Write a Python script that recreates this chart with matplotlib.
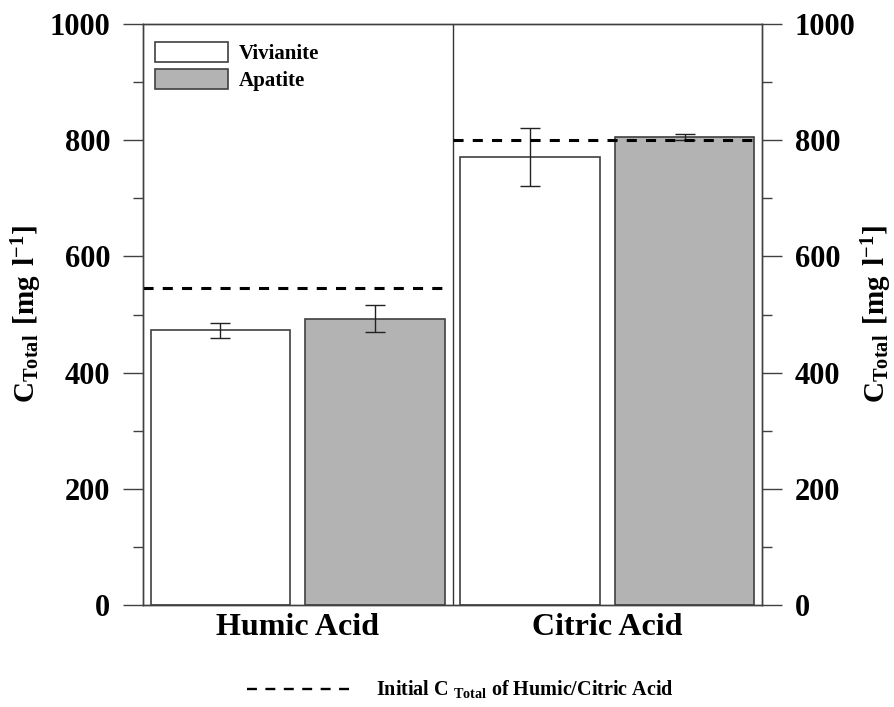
import numpy as np
import matplotlib
matplotlib.use('Agg')
import matplotlib.pyplot as plt
from matplotlib.lines import Line2D
from matplotlib.ticker import MultipleLocator

# C_Total per acid, mean and error for each mineral
acids = ['Humic Acid', 'Citric Acid']
vivianite_mean = [473, 771]
vivianite_err = [13, 50]
apatite_mean = [493, 806]
apatite_err = [23, 5]
initial_c = [546, 800]

plt.rcParams['font.family'] = 'Liberation Serif'
plt.rcParams['font.weight'] = 'bold'
plt.rcParams['mathtext.fontset'] = 'custom'
plt.rcParams['mathtext.rm'] = 'Liberation Serif:bold'
plt.rcParams['mathtext.bf'] = 'Liberation Serif:bold'

edge = '#404040'
dash = (0, (3.3, 3))

fig = plt.figure(figsize=(8.94, 7.07), dpi=100)
ax = fig.add_axes([143/894, 102/707, 619/894, 581/707])

x = np.arange(len(acids)) * 2 + 1
err_kw = dict(elinewidth=1, capthick=1, ecolor='#222222')
b1 = ax.bar(x - 0.5, vivianite_mean, 0.9, yerr=vivianite_err, color='white',
            edgecolor=edge, linewidth=1.2, capsize=7.5, error_kw=err_kw,
            label='Vivianite')
b2 = ax.bar(x + 0.5, apatite_mean, 0.9, yerr=apatite_err, color='#b3b3b3',
            edgecolor=edge, linewidth=1.2, capsize=7.5, error_kw=err_kw,
            label='Apatite')

# initial concentration of each acid, dashed across its half
for xi, c in zip(x, initial_c):
    ax.hlines(c, xi - 1, xi + 0.97, colors='black', linestyles=dash,
              linewidth=2.2, zorder=5)
ax.axvline(2, color='#333333', linewidth=1)

ax.set_xlim(0, 4)
ax.set_ylim(0, 1000)
ax.set_xticks(x)
ax.set_xticklabels(acids, fontsize=23)
ax.tick_params(axis='x', length=0, pad=6)

ax2 = ax.twinx()
ax2.set_ylim(0, 1000)
for a in (ax, ax2):
    a.yaxis.set_major_locator(MultipleLocator(200))
    a.yaxis.set_minor_locator(MultipleLocator(100))
    a.tick_params(axis='y', which='major', length=14.4, width=1,
                  color=edge, labelsize=22, pad=9)
    a.tick_params(axis='y', which='minor', length=7.2, width=1, color=edge)
    for s in a.spines.values():
        s.set_color(edge)
        s.set_linewidth(1)

ylab = r'$\mathbf{C_{Total}\ [mg\ l^{-1}]}$'
ax.set_ylabel(ylab, fontsize=21)
ax.yaxis.set_label_coords(-0.160, 0.5)
ax2.set_ylabel(ylab, fontsize=21, rotation=90)
ax2.yaxis.set_label_coords(1.157, 0.5)

ax.legend(handles=[b1, b2], loc='upper left',
          bbox_to_anchor=(0.0194, 0.9695), frameon=False, borderpad=0,
          borderaxespad=0, fontsize=15, handlelength=3.5, handleheight=1.1,
          labelspacing=0.25, handletextpad=0.5)

proxy = Line2D([], [], color='black', linestyle=(0, (4.2, 3.6)), linewidth=1.7)
fig.legend(handles=[proxy],
           labels=[r'Initial C $_{\mathbf{Total}}$ of Humic/Citric Acid'],
           loc='center', bbox_to_anchor=(0.515, 0.024), frameon=False,
           fontsize=14.5, handlelength=5.2, handletextpad=1.2)

fig.savefig('out.png', dpi=100)
